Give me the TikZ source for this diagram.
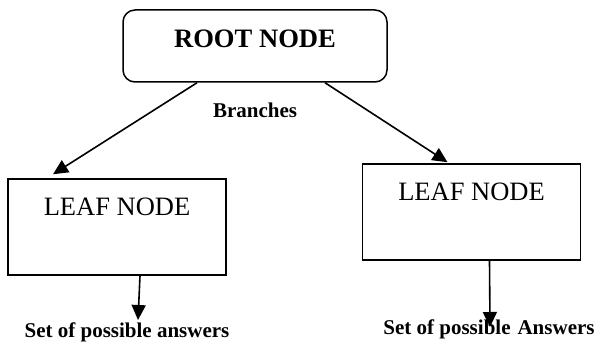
\documentclass[tikz,border=0pt]{standalone}
\usepackage{fontspec}
\setmainfont{Liberation Serif}
\usetikzlibrary{arrows.meta}
\tikzset{
	leafbox/.style={draw, line width=1.5pt, minimum width=218pt, minimum height=96pt, text depth=40pt, font=\fontsize{26.5}{30}\selectfont},
	arr/.style={line width=1.6pt, -{Triangle[length=15pt,width=14pt]}},
	bold/.style={font=\fontsize{21}{24}\selectfont\bfseries}
}
\begin{document}
\begin{tikzpicture}[x=1pt,y=-1pt]
		\useasboundingbox (0,0) rectangle (597,344);
		\node[draw, line width=1.5pt, rounded corners=12pt, minimum width=264pt, minimum height=72pt, text depth=14pt, font=\fontsize{26.6}{30}\selectfont\bfseries] (root) at (255,46) {ROOT NODE};
		\node[bold] (branch) at (255,110) {Branches};
		\node[leafbox] (leafL) at (117,227) {LEAF NODE};
		\node[leafbox] (leafR) at (471.5,212) {LEAF NODE};
		\node[bold, anchor=base] (ansL) at (127,338) {Set of possible answers};
		\node[bold, anchor=base] (ansR) at (489,335) {Set of possible\,\,Answers};
		\draw[arr] ([xshift=-58pt]root.south) -- ([xshift=-64pt,yshift=4pt]leafL.north);
		\draw[arr] ([xshift=70pt]root.south) -- ([xshift=-24pt,yshift=1pt]leafR.north);
		\draw[arr] ([xshift=23pt]leafL.south) -- ([xshift=11pt,yshift=18pt]ansL.base);
		\draw[arr] ([xshift=18pt]leafR.south) -- ([xshift=1pt,yshift=8pt]ansR.base);
	\end{tikzpicture}
\end{document}
